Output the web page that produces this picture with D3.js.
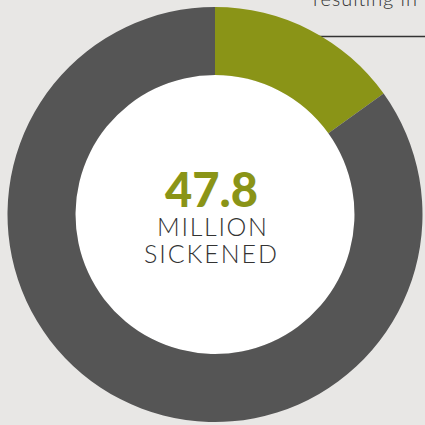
<!DOCTYPE html>
<html><head><meta charset="utf-8">
<script src="https://cdn.jsdelivr.net/npm/d3@7"></script>
<style>html,body{margin:0;padding:0;background:#e8e7e5;overflow:hidden}</style>
</head><body>
<svg id="c" width="425" height="425"></svg>
<script>
const categories = ["Hospitalized / other", "Remaining sickened"];
const values = [15.1, 84.9];
const centerValue = "47.8";
const centerLabels = ["MILLION", "SICKENED"];
const calloutText = "resulting in";

const svg = d3.select("#c");
const W = 425, H = 425;
svg.append("rect").attr("width", W).attr("height", H).attr("fill", "#e8e7e5");

const cx = 215, cy = 214.5, rOuter = 207.5, rInner = 139.5;
const color = d3.scaleOrdinal().domain(categories).range(["#8a9417", "#555555"]);

// callout line (behind donut)
svg.append("line").attr("x1", 300).attr("x2", 425).attr("y1", 36.5).attr("y2", 36.5)
  .attr("stroke", "#333").attr("stroke-width", 1.3);
svg.append("text").attr("x", 313).attr("y", 6).attr("font-family", "Lato, sans-serif")
  .attr("font-weight", 300).attr("font-size", 20).attr("fill", "#333")
  .attr("textLength", 104).attr("lengthAdjust", "spacing").text(calloutText);

const pie = d3.pie().sort(null).value(d => d);
const arc = d3.arc().innerRadius(rInner).outerRadius(rOuter);
const g = svg.append("g").attr("transform", `translate(${cx},${cy})`);
g.append("circle").attr("r", rInner).attr("fill", "#ffffff");
g.selectAll("path").data(pie(values)).join("path")
  .attr("d", arc).attr("fill", (d, i) => color(categories[i]));

svg.append("text").attr("x", 211.5).attr("y", 207).attr("text-anchor", "middle")
  .attr("font-family", "Lato, sans-serif").attr("font-weight", 900).attr("font-size", 47)
  .attr("fill", "#8a9417").attr("textLength", 93).attr("lengthAdjust", "spacing").text(centerValue);
const lens = [110, 133];
const xs = [212, 210.5];
centerLabels.forEach((t, i) => {
  svg.append("text").attr("x", xs[i]).attr("y", 236 + i * 27).attr("text-anchor", "middle")
    .attr("font-family", "Lato, sans-serif").attr("font-weight", 300).attr("font-size", 25)
    .attr("fill", "#333").attr("textLength", lens[i]).attr("lengthAdjust", "spacing").text(t);
});
</script>
</body></html>
